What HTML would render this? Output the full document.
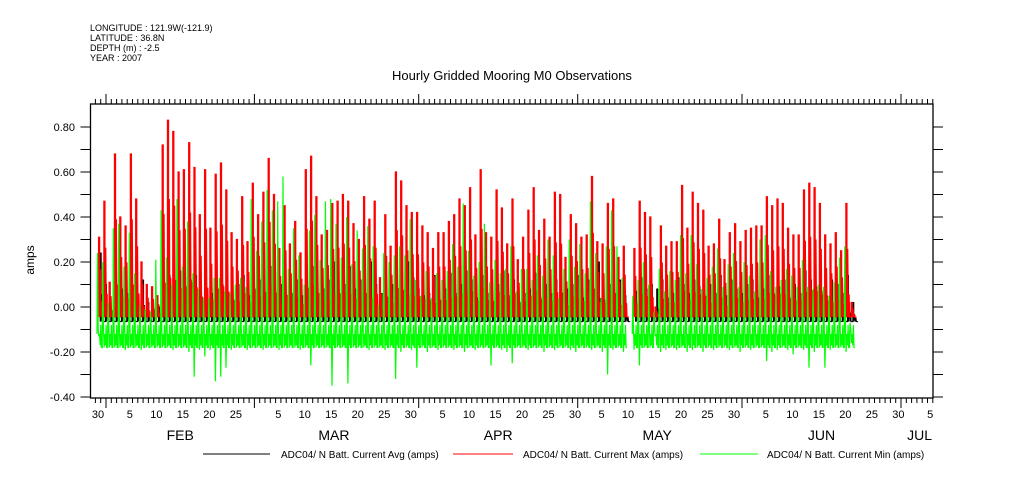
<!DOCTYPE html>
<html><head><meta charset="utf-8"><style>
html,body{margin:0;padding:0;background:#fff;}
svg{display:block;font-family:"Liberation Sans",sans-serif;}
</style></head><body>
<svg id="chart" width="1009" height="504" viewBox="0 0 1009 504">
<g font-size="9" fill="#000">
<text x="90" y="31">LONGITUDE : 121.9W(-121.9)</text>
<text x="90" y="41">LATITUDE : 36.8N</text>
<text x="90" y="51">DEPTH (m) : -2.5</text>
<text x="90" y="61">YEAR : 2007</text>
</g>
<text x="512" y="80" font-size="13" text-anchor="middle">Hourly Gridded Mooring M0 Observations</text>
<text transform="translate(34,260) rotate(-90)" font-size="12" text-anchor="middle">amps</text>
<g id="marks"></g>
<g id="axes"></g>
<g font-size="10">
<g><line x1="203" y1="454" x2="270" y2="454" stroke="#000"/><text x="281" y="458">ADC04/ N Batt. Current Avg (amps)</text></g>
<g><line x1="453" y1="454" x2="513" y2="454" stroke="#f00"/><text x="523" y="458">ADC04/ N Batt. Current Max (amps)</text></g>
<g><line x1="700" y1="454" x2="758" y2="454" stroke="#0f0"/><text x="767" y="458">ADC04/ N Batt. Current Min (amps)</text></g>
</g>
</svg>
<script>
const yTicks=[0.8,0.6,0.4,0.2,0,-0.2,-0.4];
const yTickLabels=["0.80","0.60","0.40","0.20","0.00","-0.20","-0.40"];
const dayLabels=[[0,"30"],[6,"5"],[11,"10"],[16,"15"],[21,"20"],[26,"25"],[34,"5"],[39,"10"],[44,"15"],[49,"20"],[54,"25"],[59,"30"],[65,"5"],[70,"10"],[75,"15"],[80,"20"],[85,"25"],[90,"30"],[95,"5"],[100,"10"],[105,"15"],[110,"20"],[115,"25"],[120,"30"],[126,"5"],[131,"10"],[136,"15"],[141,"20"],[146,"25"],[151,"30"],[157,"5"]];
const monthStarts=[2,30,61,91,122,152];
const monthLabels=[[16,"FEB"],[45,"MAR"],[76,"APR"],[106,"MAY"],[137,"JUN"],[155.5,"JUL"]];
// daily max (red) peaks, days from Jan 30
const maxPeak=[0.31,0.47,0.11,0.68,0.40,0.36,0.68,0.48,0.20,0.10,0.09,0.05,0.72,0.83,0.78,0.60,0.61,0.73,0.62,0.41,0.61,0.35,0.59,0.64,0.52,0.33,0.30,0.49,0.29,0.55,0.41,0.51,0.66,0.50,0.26,0.45,0.28,0.38,0.24,0.61,0.67,0.49,0.32,0.34,0.46,0.47,0.50,0.47,0.37,0.30,0.49,0.39,0.47,0.13,
0.41,0.27,0.60,0.56,0.45,0.42,0.42,0.36,0.33,0.26,0.33,0.33,0.38,0.41,0.48,0.45,0.53,0.32,0.61,0.33,0.31,0.52,0.44,0.28,0.48,0.21,0.31,0.43,0.53,0.34,0.39,0.31,0.51,0.50,0.22,0.41,0.37,0.31,0.32,0.58,0.29,0.28,0.46,0.48,0.22,0.27,null,0.26,0.47,0.42,0.40,0.00,
0.36,0.27,0.29,0.29,0.54,0.35,0.51,0.46,0.43,0.27,0.28,0.39,0.21,0.33,0.37,0.29,0.34,0.35,0.36,0.36,0.49,0.45,0.48,0.46,0.35,0.32,0.32,0.52,0.55,0.53,0.46,0.32,0.28,0.33,0.25,0.46,0.02];
// daily min (green) upward peaks
const minPeak=[0.24,0.20,0.02,0.35,0.37,0.18,0.33,0.15,0.01,-0.01,-0.02,0.21,0.43,0.22,0.10,0.48,0.18,0.38,0.15,0.08,0.04,0.04,0.13,0.13,0.07,0.06,0.10,0.13,0.09,0.48,0.25,0.38,0.52,0.43,0.47,0.58,0.17,0.35,0.23,0.10,0.34,0.41,0.21,0.47,0.48,0.37,0.22,0.40,0.19,0.34,0.26,0.36,0.27,0.01,
0.24,0.20,0.23,0.27,0.23,0.39,0.12,0.05,0.16,0.04,0.15,0.12,0.16,0.28,0.18,0.46,0.25,0.14,0.20,0.37,0.11,0.21,0.15,0.17,0.27,0.07,0.17,0.17,0.12,0.23,0.14,0.30,0.23,0.04,0.17,0.30,0.18,0.28,0.15,0.47,0.24,0.04,0.27,0.43,0.27,0.13,null,0.05,0.12,0.20,0.10,-0.02,
0.17,0.07,0.16,0.12,0.32,0.15,0.32,0.19,0.08,0.13,0.18,0.26,0.09,0.19,0.24,0.09,0.20,0.14,0.07,0.30,0.32,0.16,0.09,0.12,0.17,0.14,0.09,0.21,0.09,0.08,0.10,0.09,0.05,0.11,0.22,0.27,-0.07];
// daily min (green) lows
const minLow=[-0.13,-0.18,-0.18,-0.18,-0.18,-0.19,-0.18,-0.18,-0.19,-0.18,-0.18,-0.18,-0.18,-0.18,-0.19,-0.18,-0.18,-0.20,-0.31,-0.19,-0.22,-0.19,-0.33,-0.31,-0.27,-0.19,-0.18,-0.18,-0.19,-0.18,-0.18,-0.19,-0.18,-0.18,-0.19,-0.18,-0.18,-0.18,-0.19,-0.18,-0.26,-0.18,-0.18,-0.18,-0.35,-0.18,-0.18,-0.34,-0.18,-0.18,-0.18,-0.19,-0.18,-0.18,
-0.19,-0.18,-0.32,-0.20,-0.18,-0.19,-0.27,-0.18,-0.20,-0.18,-0.19,-0.18,-0.18,-0.19,-0.18,-0.20,-0.18,-0.19,-0.18,-0.18,-0.26,-0.18,-0.19,-0.20,-0.25,-0.18,-0.18,-0.19,-0.18,-0.18,-0.20,-0.18,-0.19,-0.18,-0.18,-0.19,-0.20,-0.18,-0.18,-0.19,-0.18,-0.20,-0.30,-0.19,-0.18,-0.20,null,-0.19,-0.26,-0.18,-0.18,-0.13,
-0.20,-0.19,-0.18,-0.19,-0.18,-0.20,-0.19,-0.18,-0.20,-0.18,-0.19,-0.18,-0.18,-0.19,-0.18,-0.20,-0.18,-0.19,-0.18,-0.18,-0.24,-0.20,-0.19,-0.18,-0.19,-0.21,-0.18,-0.19,-0.27,-0.20,-0.18,-0.27,-0.19,-0.18,-0.18,-0.20,-0.16];
// daily avg (black) peaks
const avgPeak=[0.24,0.10,-0.02,0.05,0.08,0.06,0.00,0.02,0.12,0.02,-0.01,0.00,0.08,0.14,0.05,0.16,0.09,0.12,0.14,0.04,0.08,0.06,0.08,0.10,0.04,0.03,0.10,0.14,0.05,0.08,0.12,0.06,0.18,0.04,0.10,0.02,0.06,0.12,0.05,0.08,0.18,0.04,0.08,0.12,0.20,0.06,0.10,0.18,0.08,0.12,0.04,0.20,0.10,0.06,
0.04,0.10,0.00,0.06,0.20,0.13,0.08,0.05,0.06,0.14,0.03,0.08,0.15,0.06,0.10,0.16,0.12,0.04,0.14,0.06,0.02,0.10,0.16,0.05,0.12,0.02,0.06,0.08,0.15,0.04,0.10,0.06,0.12,0.03,0.08,0.10,0.14,0.04,0.12,0.08,0.20,0.03,0.10,0.06,0.12,0.05,null,0.07,0.13,0.08,0.10,0.08,
0.12,0.04,0.06,0.13,0.10,0.06,0.12,0.09,0.04,0.10,0.06,0.14,0.05,0.12,0.08,0.06,0.10,0.12,0.04,0.08,0.14,0.06,0.09,0.12,0.04,0.10,0.06,0.16,0.12,0.09,0.07,0.05,0.12,0.10,0.06,0.14,0.02];

const X0=95.4, DX=5.30, Y0=307, SY=225;
const L=90.5, R=933, T=104, B=398;
function xs(d){return X0+d*DX;}
function ys(v){return Y0-v*SY;}
const NS="http://www.w3.org/2000/svg";
const marks=document.getElementById('marks');
const axes=document.getElementById('axes');
function mk(tag,attrs,parent){const e=document.createElementNS(NS,tag);for(const k in attrs)e.setAttribute(k,attrs[k]);parent.appendChild(e);return e;}
function f(n){return n.toFixed(1);}

function seriesPath(peaks,base,off,second){
  let d="",pen=false;
  for(let i=0;i<peaks.length;i++){
    if(peaks[i]==null){pen=false;continue;}
    const x=xs(i+off),yb=ys(base),yp=ys(peaks[i]);
    const y2=ys(base+(peaks[i]-base)*second);
    d+=(pen?"L":"M")+f(x)+","+f(yb)+"L"+f(x)+","+f(yp)+"L"+f(x+1)+","+f(yp)+"L"+f(x+1)+","+f(yb)+"L"+f(x+1.8)+","+f(y2)+"L"+f(x+2.4)+","+f(yb)+"L"+f(x+3.2)+","+f(ys(base+(peaks[i]-base)*0.2))+"L"+f(x+3.6)+","+f(yb)+"L"+f(x+DX)+","+f(yb);
    pen=true;
  }
  return d;
}
function greenPath(){
  let d="",pen=false;
  for(let i=0;i<minPeak.length;i++){
    if(minPeak[i]==null){pen=false;continue;}
    const x=xs(i+0.3),lo=minLow[i];
    d+=(pen?"L":"M")+f(x)+","+f(ys(-0.12))+"L"+f(x+0.5)+","+f(ys(minPeak[i]))+"L"+f(x+1.2)+","+f(ys(-0.10))+"L"+f(x+1.8)+","+f(ys(lo))+"L"+f(x+2.5)+","+f(ys(-0.12))+"L"+f(x+3.2)+","+f(ys(-0.17))+"L"+f(x+3.8)+","+f(ys(-0.08))+"L"+f(x+4.4)+","+f(ys(-0.18))+"L"+f(x+DX)+","+f(ys(-0.18));
    pen=true;
  }
  return d;
}
const black=mk('path',{d:seriesPath(avgPeak,-0.065,0.9,0.4),fill:"none",stroke:"#000","stroke-width":1},marks);


const red=mk('path',{d:seriesPath(maxPeak,-0.045,0.6,0.6),fill:"none",stroke:"#f00","stroke-width":1.3},marks);


const green=mk('path',{d:greenPath(),fill:"none",stroke:"#0f0","stroke-width":1.2},marks);



const frame=mk('rect',{x:L,y:T,width:R-L,height:B-T,fill:"none",stroke:"#000","stroke-width":1.3},axes);


let tp="";
for(let v=-0.4;v<=0.81;v+=0.1){const y=f(ys(v));tp+="M"+(L-10)+","+y+"H"+L+"M"+R+","+y+"H"+(R+10);}
for(let d=-0;d<=158;d++){const x=xs(d);if(x<L||x>R)continue;const big=monthStarts.includes(d);const xx=f(x);tp+="M"+xx+","+B+"V"+(B+(big?10:5))+"M"+xx+","+T+"V"+(T-(big?10:5));}
const ticks=mk('path',{d:tp,stroke:"#000","stroke-width":1,fill:"none"},axes);


yTicks.forEach((v,i)=>{const t=mk('text',{x:75,y:ys(v)+4,"font-size":11,"text-anchor":"end"},axes);t.textContent=yTickLabels[i];

});
dayLabels.forEach(([d,s])=>{const t=mk('text',{x:xs(d+0.5),y:418,"font-size":11,"text-anchor":"middle"},axes);t.textContent=s;

});
monthLabels.forEach(([d,s])=>{const t=mk('text',{x:xs(d),y:440,"font-size":14,"text-anchor":"middle"},axes);t.textContent=s;

});
</script>
</body></html>
